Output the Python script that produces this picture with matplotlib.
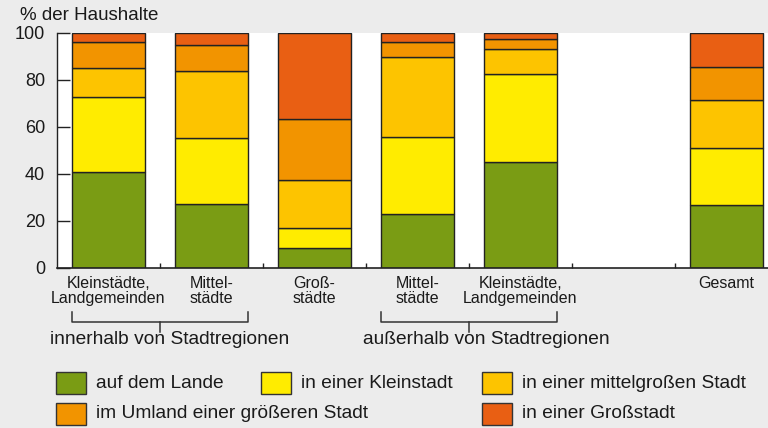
import matplotlib
matplotlib.use("Agg")
import matplotlib.pyplot as plt
from matplotlib.patches import Rectangle
from matplotlib.lines import Line2D

plt.rcParams['font.family'] = ['Liberation Sans', 'DejaVu Sans']

# data, percent of households
categories = ["Kleinstädte,\nLandgemeinden", "Mittel-\nstädte", "Groß-\nstädte",
              "Mittel-\nstädte", "Kleinstädte,\nLandgemeinden", "", "Gesamt"]
series_names = ["auf dem Lande", "in einer Kleinstadt", "in einer mittelgroßen Stadt",
                "im Umland einer größeren Stadt", "in einer Großstadt"]
lande = [40.7, 27.4, 8.5, 22.8, 45.0, 0, 26.7]
kleinstadt = [31.9, 27.8, 8.4, 32.8, 37.6, 0, 24.5]
mittelstadt = [12.4, 28.6, 20.5, 34.2, 10.6, 0, 20.3]
umland = [11.3, 10.9, 26.1, 6.4, 4.2, 0, 14.2]
grossstadt = [3.7, 5.3, 36.5, 3.8, 2.6, 0, 14.3]
groups = ["innerhalb von Stadtregionen", "außerhalb von Stadtregionen"]
yticks = [0, 20, 40, 60, 80, 100]

colors = ["#7a9c14", "#ffec00", "#fdc400", "#f29400", "#e95f13"]
W, H = 768, 428
bg = "#ececec"
txt = "#1a1a1a"

fig = plt.figure(figsize=(W / 100, H / 100), dpi=100)
fig.patch.set_facecolor(bg)

# axes placed in pixel terms
left, right, bottom, top = 57, 768, 268, 33
ax = fig.add_axes([left / W, 1 - bottom / H, (right - left) / W, (bottom - top) / H])
ax.set_facecolor("white")

x = list(range(len(categories)))
bw = 0.71
base = [0] * len(x)
all_series = [lande, kleinstadt, mittelstadt, umland, grossstadt]
for vals, name, col in zip(all_series, series_names, colors):
    idx = [i for i in x if categories[i] != ""]
    ax.bar([x[i] for i in idx], [vals[i] for i in idx], bw,
           bottom=[base[i] for i in idx], color=col, edgecolor="#222222",
           linewidth=1.0, label=name, zorder=2)
    base = [b + v for b, v in zip(base, vals)]

ax.set_xlim(-0.5, -0.5 + (right - left) / 103)
ax.set_ylim(0, 100)
for s in ["top", "right"]:
    ax.spines[s].set_visible(False)
ax.spines["left"].set_color("#222222")
ax.spines["bottom"].set_color("#222222")
ax.spines["left"].set_linewidth(1.0)
ax.spines["bottom"].set_linewidth(1.2)

ax.set_yticks(yticks)
ax.set_yticklabels([str(t) for t in yticks], fontsize=13, color=txt)
ax.tick_params(axis="y", direction="in", length=9.5, width=1.0, pad=8.5,
               color="#222222")
ax.set_xticks([i + 0.5 for i in range(6)])
ax.set_xticklabels([])
ax.tick_params(axis="x", direction="in", length=3.6, width=1.0, color="#222222")

# category labels
tr = ax.get_xaxis_transform()
for i, lab in enumerate(categories):
    if lab:
        ax.text(x[i], -0.035, lab, transform=tr, ha="center", va="top",
                fontsize=11.5, linespacing=1.0, color=txt)

# brackets for the two groups
for (a, b), mid in [((0, 1), 0.5), ((3, 4), 3.5)]:
    x0 = x[a] - bw / 2
    x1 = x[b] + bw / 2
    ax.add_line(Line2D([x0, x0, x1, x1], [-0.187, -0.230, -0.230, -0.187],
                       transform=tr, clip_on=False, color="#333333", lw=1.1))
    ax.add_line(Line2D([mid, mid], [-0.230, -0.272], transform=tr,
                       clip_on=False, color="#333333", lw=1.1))

fig.text(50 / W, 1 - 340 / H, groups[0], ha="left", va="center",
         fontsize=13.8, color=txt)
fig.text(363 / W, 1 - 340 / H, groups[1], ha="left", va="center",
         fontsize=13.8, color=txt)

fig.text(20 / W, 1 - 15 / H, "% der Haushalte", ha="left", va="center",
         fontsize=13.5, color=txt)

# legend drawn by hand
leg_pos = [(56, 383), (261, 383), (482, 383), (56, 414), (482, 414)]
for (px, py), name, col in zip(leg_pos, series_names, colors):
    fig.add_artist(Rectangle((px / W, 1 - (py + 11) / H), 30 / W, 22 / H,
                             transform=fig.transFigure, facecolor=col,
                             edgecolor="#333333", linewidth=1.0))
    fig.text((px + 40) / W, 1 - py / H, name, ha="left", va="center",
             fontsize=13.8, color=txt)

fig.savefig("out.png", dpi=100, facecolor=bg)
